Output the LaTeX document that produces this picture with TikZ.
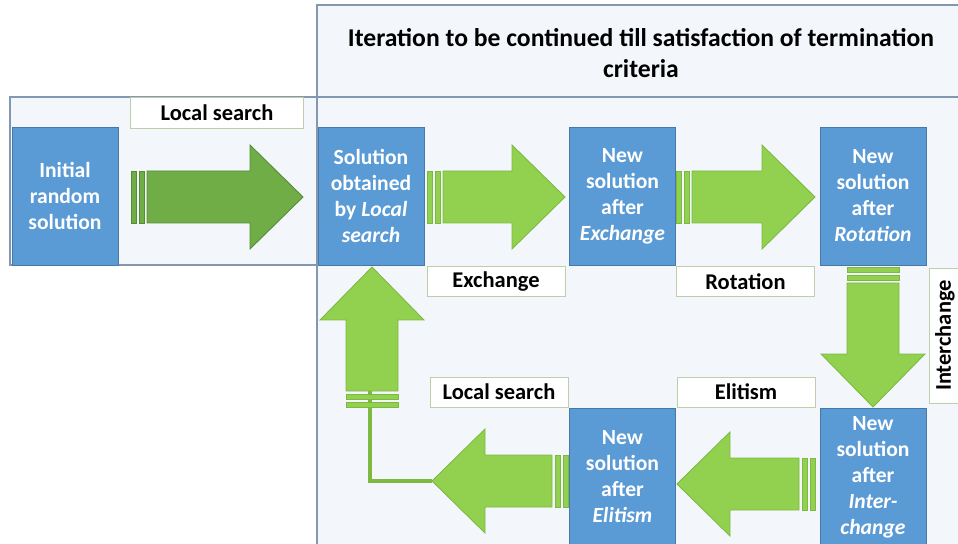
\documentclass[tikz,border=0pt]{standalone}
\usepackage{fontspec}
\setmainfont{Carlito}
\definecolor{boxblue}{RGB}{91, 155, 213}
\definecolor{boxblueline}{RGB}{70, 120, 170}
\definecolor{arrowgreen}{RGB}{146, 208, 80}
\definecolor{arrowgreenline}{RGB}{125, 185, 65}
\definecolor{firstgreen}{RGB}{112, 173, 71}
\definecolor{firstgreenline}{RGB}{84, 140, 52}
\definecolor{panel}{RGB}{243, 247, 251}
\definecolor{panelline}{RGB}{132, 151, 176}
\definecolor{labelline}{RGB}{190, 205, 170}
\tikzstyle{solbox} = [
  draw=boxblueline,
  fill=boxblue,
  text=white,
  font=\bfseries\fontsize{12.3}{14.8}\selectfont,
  align=center,
  minimum width=2.12cm,
  minimum height=2.76cm,
  inner sep=0pt,
]
\tikzstyle{steplabel} = [
  draw=labelline,
  fill=white,
  font=\bfseries\fontsize{12.8}{15}\selectfont,
  minimum width=2.76cm,
  minimum height=0.6cm,
  inner sep=0pt,
]
\tikzstyle{panelbox} = [draw=panelline, fill=panel, line width=0.6pt]
\tikzstyle{bigarrow} = [draw=arrowgreenline, fill=arrowgreen, line width=0.5pt]
\tikzstyle{firstarrow} = [draw=firstgreenline, fill=firstgreen, line width=0.5pt]
\tikzstyle{link} = [draw=arrowgreenline, line width=1.8pt]

% striped block arrow along +x, tail at the origin
% #1 = length, #2 = style
\newcommand{\stripedarrow}[2]{
  \fill[#2] (0,-26) rectangle (5,26);
  \fill[#2] (8,-26) rectangle (13,26);
  \draw[#2] (16,-26) -- ({#1-53},-26) -- ({#1-53},-52) -- (#1,0)
    -- ({#1-53},52) -- ({#1-53},26) -- (16,26) -- cycle;
}

\begin{document}
\begin{tikzpicture}[x=0.02cm, y=-0.02cm]
            \useasboundingbox (0,0) rectangle (958,544);
            \clip (0,0) rectangle (958,544);

            % Panels
            \draw[panelbox] (10,97) rectangle (317,265);
            \draw[panelbox] (317,97) rectangle (965,552);
            \draw[panelbox] (317,5) rectangle (965,97);
            \node[font=\bfseries\fontsize{14.6}{17.5}\selectfont, align=center] (title) at (641,53)
                {Iteration to be continued till satisfaction of termination\\criteria};

            % Solutions
            \node[solbox] (init) at (65,196) {Initial\\random\\solution};
            \node[solbox] (lsol) at (371,196) {Solution\\obtained\\by \textit{Local}\\\textit{search}};
            \node[solbox] (exsol) at (622.5,196) {New\\solution\\after\\\textit{Exchange}};
            \node[solbox] (rotsol) at (873,196) {New\\solution\\after\\\textit{Rotation}};
            \node[solbox] (intsol) at (873,477) {New\\solution\\after\\\textit{Inter-}\\\textit{change}};
            \node[solbox] (elsol) at (622.5,477) {New\\solution\\after\\\textit{Elitism}};

            % Link back to the first solution
            \coordinate (lstip) at (432,481);
            \coordinate (uptail) at (370,391);
            \draw[link] (lstip) -| (uptail);

            % Arrows
            \begin{scope}[shift={(131,197)}]
                \stripedarrow{172}{firstarrow}
            \end{scope}
            \begin{scope}[shift={(427,197)}]
                \stripedarrow{138}{bigarrow}
            \end{scope}
            \begin{scope}[shift={(676,197)}]
                \stripedarrow{139}{bigarrow}
            \end{scope}
            \begin{scope}[shift={(873,267)}, rotate=-90]
                \stripedarrow{140}{bigarrow}
            \end{scope}
            \begin{scope}[shift={(815,484)}, rotate=180]
                \stripedarrow{138}{bigarrow}
            \end{scope}
            \begin{scope}[shift={(568,481)}, rotate=180]
                \stripedarrow{136}{bigarrow}
            \end{scope}
            \begin{scope}[shift={(372,407)}, rotate=90]
                \stripedarrow{140}{bigarrow}
            \end{scope}

            % Labels
            \node[steplabel, minimum width=3.46cm, minimum height=0.62cm] (lstop) at (217,112.5) {Local search};
            \node[steplabel] (exlab) at (496,281.5) {Exchange};
            \node[steplabel] (rotlab) at (745.5,281.5) {Rotation};
            \node[steplabel, rotate=90, minimum width=2.7cm, minimum height=0.62cm] (intlab) at (945,335.5) {Interchange};
            \node[steplabel] (ellab) at (746,392) {Elitism};
            \node[steplabel] (lsbot) at (499,392) {Local search};
          \end{tikzpicture}
\end{document}
